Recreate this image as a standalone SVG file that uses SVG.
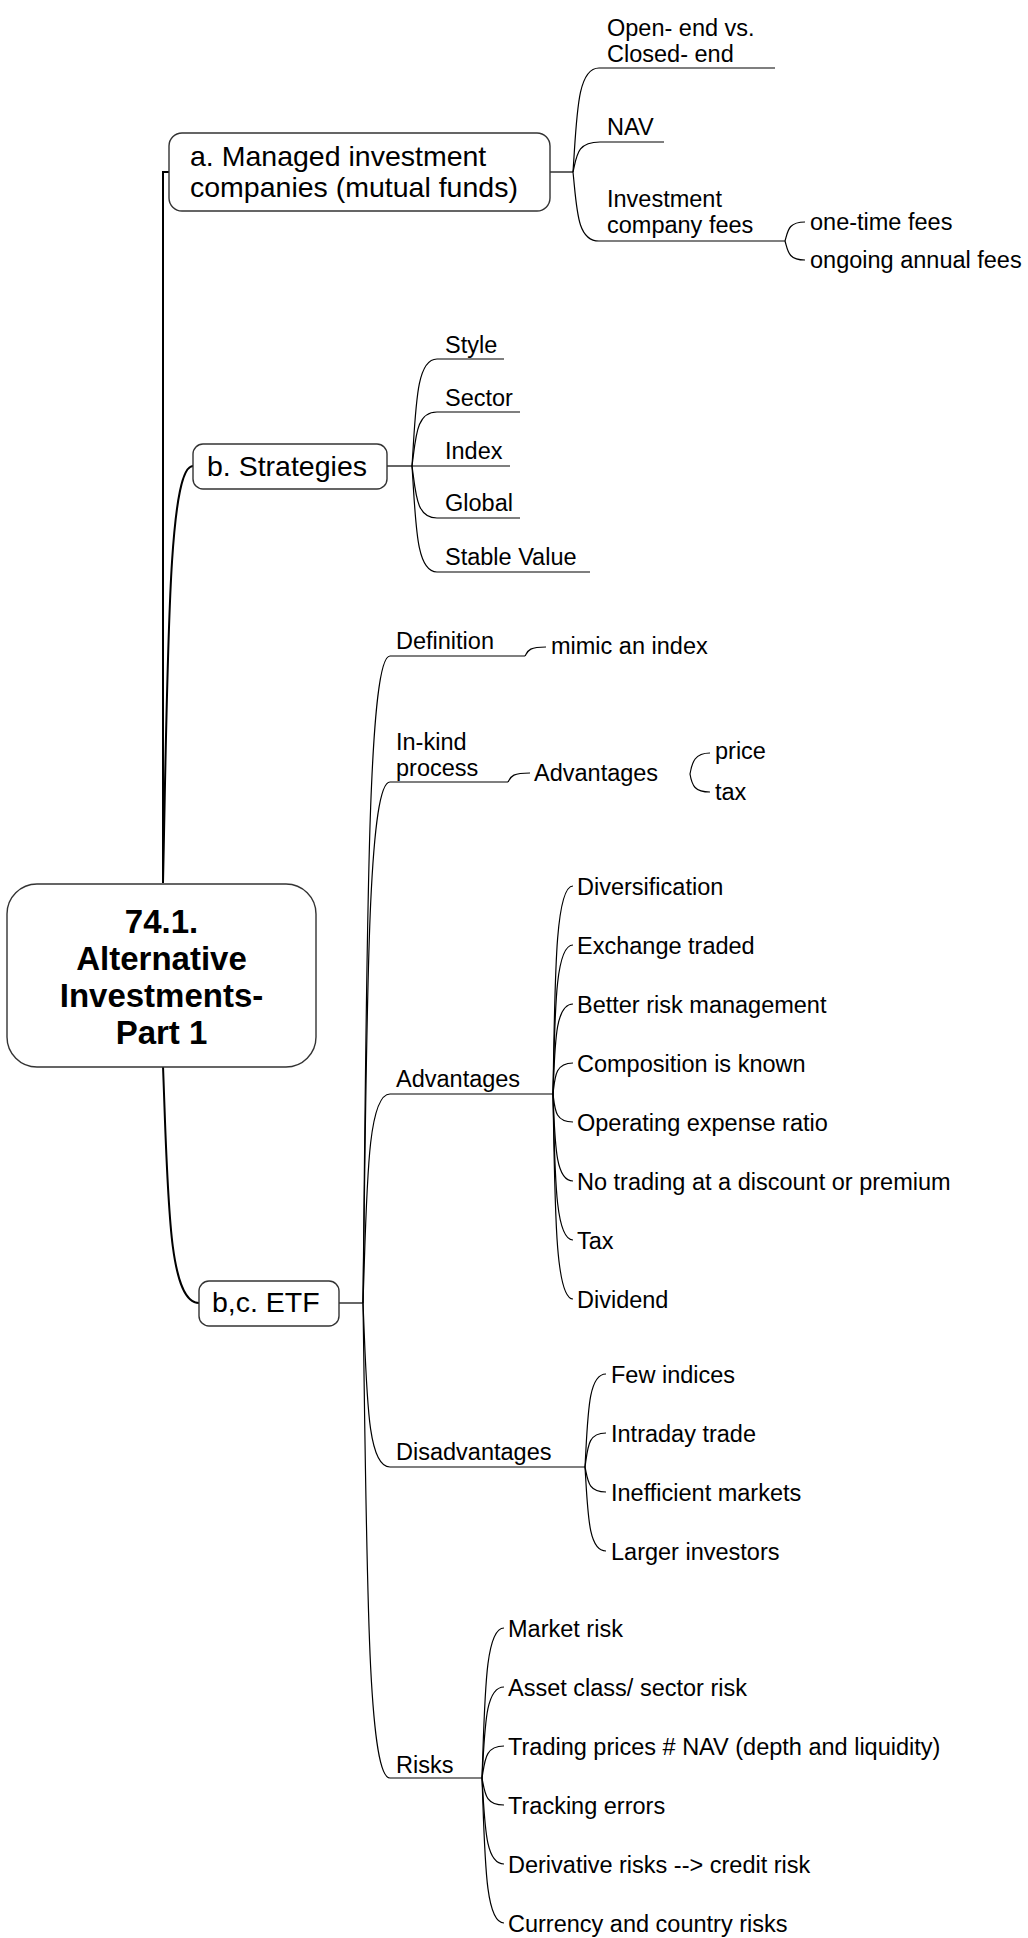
<svg xmlns="http://www.w3.org/2000/svg" width="1028" height="1938" viewBox="0 0 1028 1938">
<style>
text{font-family:"Liberation Sans",Arial,sans-serif;fill:#000}
.root{font-size:33px;font-weight:bold;text-anchor:middle}
.l1{font-size:28.5px}
.l2{font-size:23.5px}
.box{fill:#fff;stroke:#333;stroke-width:1.4}
.c{fill:none;stroke:#000;stroke-width:1.2}
.c0{fill:none;stroke:#000;stroke-width:2}
</style>
<rect width="1028" height="1938" fill="#fff"/>
<g id="connectors">
<path class="c0" d="M163 883 V172 H169"/>
<path class="c0" d="M163 883 C168 653 168 466 193 466"/>
<path class="c0" d="M163 1066 C168 1196 168 1303 199 1303"/>
<path class="c" d="M550 172 H573"/>
<path class="c" d="M573 172 C577 115 577 68 599 68 H775"/>
<path class="c" d="M573 172 C577 155 577 142 600 142 H664"/>
<path class="c" d="M573 172 C577 210 577 241 599 241 H785"/>
<path class="c" d="M785 241 C788 231 788 222 805 222"/>
<path class="c" d="M785 241 C788 251 788 260 805 260"/>
<path class="c" d="M387 466 H412"/>
<path class="c" d="M412 466 C416 407 416 359 437 359 H504"/>
<path class="c" d="M412 466 C416 437 416 412 437 412 H520"/>
<path class="c" d="M412 466 H510"/>
<path class="c" d="M412 466 C416 494 416 518 437 518 H520"/>
<path class="c" d="M412 466 C416 525 416 572 437 572 H590"/>
<path class="c" d="M339 1303 H363"/>
<path class="c" d="M363 1303 C367 947 367 656 390 656 H525"/>
<path class="c" d="M363 1303 C367 1016 367 782 390 782 H508"/>
<path class="c" d="M363 1303 C367 1188 367 1094 390 1094 H553"/>
<path class="c" d="M363 1303 C367 1395 367 1467 390 1467 H585"/>
<path class="c" d="M363 1303 C367 1565 367 1778 390 1778 H482"/>
<path class="c" d="M525 656 C528 651 528 647 546 647"/>
<path class="c" d="M508 782 C511 777 511 773 530 773"/>
<path class="c" d="M690 774 C692 762 695 753 710 753"/>
<path class="c" d="M690 774 C692 786 695 792 710 792"/>
<path class="c" d="M553 1094 C555 979 555 886 573 886"/>
<path class="c" d="M553 1094 C555 1012 555 945 573 945"/>
<path class="c" d="M553 1094 C555 1044 555 1004 573 1004"/>
<path class="c" d="M553 1094 C555 1077 555 1063 573 1063"/>
<path class="c" d="M553 1094 C555 1110 555 1122 573 1122"/>
<path class="c" d="M553 1094 C555 1142 555 1181 573 1181"/>
<path class="c" d="M553 1094 C555 1175 555 1240 573 1240"/>
<path class="c" d="M553 1094 C555 1207 555 1299 573 1299"/>
<path class="c" d="M585 1467 C588 1414 588 1374 606 1374"/>
<path class="c" d="M585 1467 C588 1446 588 1433 606 1433"/>
<path class="c" d="M585 1467 C588 1481 588 1492 606 1492"/>
<path class="c" d="M585 1467 C588 1513 588 1551 606 1551"/>
<path class="c" d="M482 1778 C485 1696 485 1628 504 1628"/>
<path class="c" d="M482 1778 C485 1728 485 1687 504 1687"/>
<path class="c" d="M482 1778 C485 1760 485 1746 504 1746"/>
<path class="c" d="M482 1778 C485 1793 485 1805 504 1805"/>
<path class="c" d="M482 1778 C485 1825 485 1864 504 1864"/>
<path class="c" d="M482 1778 C485 1858 485 1923 504 1923"/>
</g>
<g id="root">
<rect class="box" x="7" y="884" width="309" height="183" rx="30"/>
<text class="root" x="161.5" y="933">74.1.</text>
<text class="root" x="161.5" y="970">Alternative</text>
<text class="root" x="161.5" y="1007">Investments-</text>
<text class="root" x="161.5" y="1044">Part 1</text>
</g>
<g id="managed">
<rect class="box" x="169" y="133" width="381" height="78" rx="13"/>
<text class="l1" x="190" y="166">a. Managed investment</text>
<text class="l1" x="190" y="197">companies (mutual funds)</text>
</g>
<g id="open-closed"><text class="l2" x="607" y="36">Open- end vs.</text><text class="l2" x="607" y="62">Closed- end</text></g>
<g id="nav"><text class="l2" x="607" y="135">NAV</text></g>
<g id="fees"><text class="l2" x="607" y="207">Investment</text><text class="l2" x="607" y="233">company fees</text></g>
<g id="one-time"><text class="l2" x="810" y="230">one-time fees</text></g>
<g id="ongoing"><text class="l2" x="810" y="268">ongoing annual fees</text></g>
<g id="strategies">
<rect class="box" x="193" y="444" width="194" height="45" rx="10"/>
<text class="l1" x="207" y="476">b. Strategies</text>
</g>
<g id="style"><text class="l2" x="445" y="353">Style</text></g>
<g id="sector"><text class="l2" x="445" y="406">Sector</text></g>
<g id="index"><text class="l2" x="445" y="459">Index</text></g>
<g id="global"><text class="l2" x="445" y="511">Global</text></g>
<g id="stable"><text class="l2" x="445" y="565">Stable Value</text></g>
<g id="etf">
<rect class="box" x="199" y="1281" width="140" height="45" rx="10"/>
<text class="l1" x="212" y="1312">b,c. ETF</text>
</g>
<g id="definition"><text class="l2" x="396" y="649">Definition</text></g>
<g id="mimic"><text class="l2" x="551" y="654">mimic an index</text></g>
<g id="inkind"><text class="l2" x="396" y="750">In-kind</text><text class="l2" x="396" y="776">process</text></g>
<g id="inkind-adv"><text class="l2" x="534" y="781">Advantages</text></g>
<g id="price"><text class="l2" x="715" y="759">price</text></g>
<g id="tax1"><text class="l2" x="715" y="800">tax</text></g>
<g id="advantages"><text class="l2" x="396" y="1087">Advantages</text></g>
<g id="adv1"><text class="l2" x="577" y="895">Diversification</text></g>
<g id="adv2"><text class="l2" x="577" y="954">Exchange traded</text></g>
<g id="adv3"><text class="l2" x="577" y="1013">Better risk management</text></g>
<g id="adv4"><text class="l2" x="577" y="1072">Composition is known</text></g>
<g id="adv5"><text class="l2" x="577" y="1131">Operating expense ratio</text></g>
<g id="adv6"><text class="l2" x="577" y="1190">No trading at a discount or premium</text></g>
<g id="adv7"><text class="l2" x="577" y="1249">Tax</text></g>
<g id="adv8"><text class="l2" x="577" y="1308">Dividend</text></g>
<g id="disadvantages"><text class="l2" x="396" y="1460">Disadvantages</text></g>
<g id="dis1"><text class="l2" x="611" y="1383">Few indices</text></g>
<g id="dis2"><text class="l2" x="611" y="1442">Intraday trade</text></g>
<g id="dis3"><text class="l2" x="611" y="1501">Inefficient markets</text></g>
<g id="dis4"><text class="l2" x="611" y="1560">Larger investors</text></g>
<g id="risks"><text class="l2" x="396" y="1773">Risks</text></g>
<g id="risk1"><text class="l2" x="508" y="1637">Market risk</text></g>
<g id="risk2"><text class="l2" x="508" y="1696">Asset class/ sector risk</text></g>
<g id="risk3"><text class="l2" x="508" y="1755">Trading prices # NAV (depth and liquidity)</text></g>
<g id="risk4"><text class="l2" x="508" y="1814">Tracking errors</text></g>
<g id="risk5"><text class="l2" x="508" y="1873">Derivative risks --&gt; credit risk</text></g>
<g id="risk6"><text class="l2" x="508" y="1932">Currency and country risks</text></g>
</svg>
